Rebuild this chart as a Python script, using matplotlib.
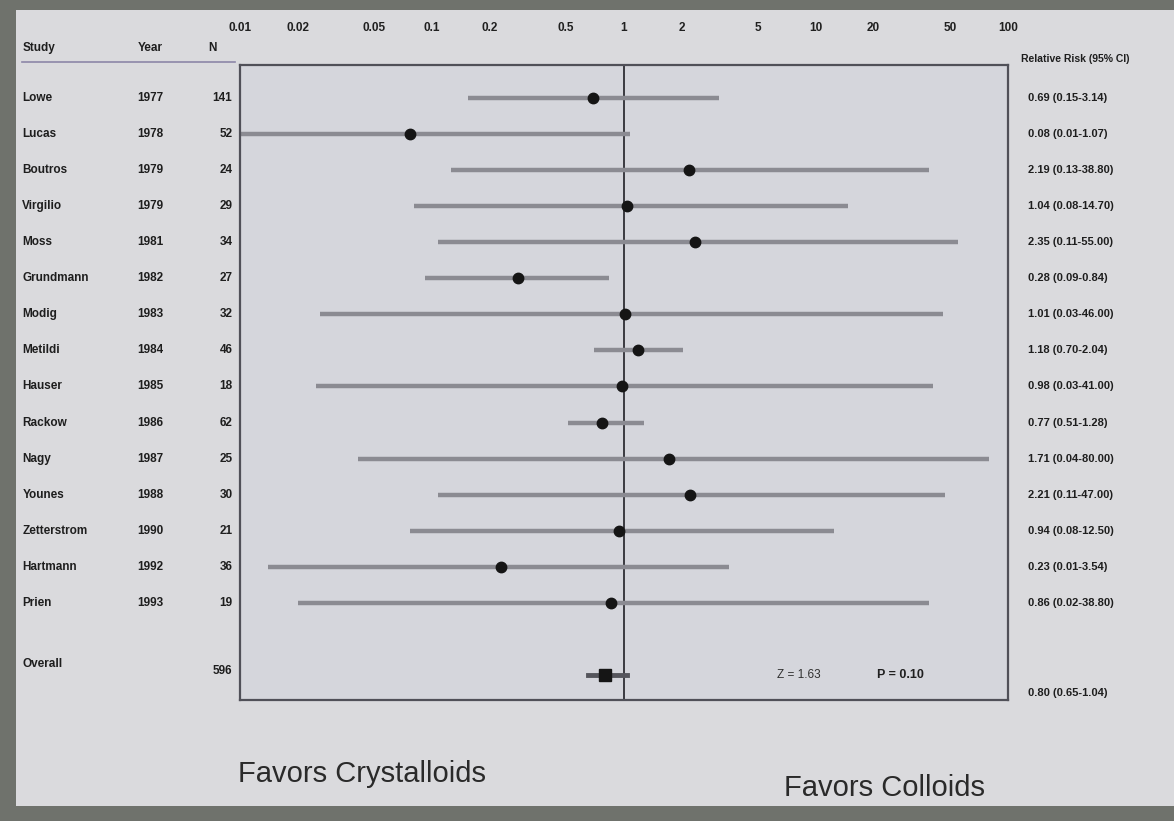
import matplotlib.pyplot as plt
import matplotlib.transforms as mtransforms
from matplotlib.patches import Rectangle

plt.rcParams['font.family'] = ['Liberation Sans', 'DejaVu Sans']

# Study data (estimated where blurry)
studies = ['Lowe', 'Lucas', 'Boutros', 'Virgilio', 'Moss', 'Grundmann', 'Modig',
           'Metildi', 'Hauser', 'Rackow', 'Nagy', 'Younes', 'Zetterstrom',
           'Hartmann', 'Prien']
years = [1977, 1978, 1979, 1979, 1981, 1982, 1983, 1984, 1985, 1986, 1987,
         1988, 1990, 1992, 1993]
n_pts = [141, 52, 24, 29, 34, 27, 32, 46, 18, 62, 25, 30, 21, 36, 19]
rr = [0.69, 0.077, 2.19, 1.04, 2.35, 0.28, 1.01, 1.18, 0.98, 0.77, 1.71,
      2.21, 0.94, 0.23, 0.86]
ci_low = [0.154, 0.009, 0.126, 0.081, 0.108, 0.092, 0.026, 0.70, 0.025, 0.51,
          0.041, 0.108, 0.077, 0.014, 0.020]
ci_high = [3.14, 1.07, 38.8, 14.7, 55.0, 0.84, 46.0, 2.04, 41.0, 1.28, 80.0,
           47.0, 12.5, 3.54, 38.8]

overall_n = 596
overall_rr = 0.80
overall_low = 0.65
overall_high = 1.04

xticks = [0.01, 0.02, 0.05, 0.1, 0.2, 0.5, 1, 2, 5, 10, 20, 50, 100]
xtick_labels = ['0.01', '0.02', '0.05', '0.1', '0.2', '0.5', '1', '2', '5',
                '10', '20', '50', '100']

fig = plt.figure(figsize=(11.74, 8.21), dpi=100)
fig.patch.set_facecolor('#6f726c')
# light "slide" area inside the dark photo frame
fig.add_artist(Rectangle((0.014, 0.018), 0.986, 0.97, transform=fig.transFigure,
                         facecolor='#dadadd', edgecolor='none', zorder=0))

ax = fig.add_axes([0.2044, 0.1474, 0.654, 0.7734])
ax.set_facecolor('#d5d6dc')
ax.set_xscale('log')
ax.set_xlim(0.01, 100)

rows = list(range(len(studies)))
overall_row = len(studies) + 1
ax.set_ylim(overall_row + 0.7, -0.92)

for i in rows:
    ax.plot([ci_low[i], ci_high[i]], [i, i], color='#8b8b92', lw=3.2,
            solid_capstyle='butt', zorder=2)
ax.plot(rr, rows, 'o', color='#151515', ms=7.5, zorder=3)

ax.plot([overall_low, overall_high], [overall_row, overall_row],
        color='#55555c', lw=3.5, zorder=2)
ax.plot([overall_rr], [overall_row], 's', color='#151515', ms=8, zorder=3)

ax.axvline(1, color='#3a3a40', lw=1.4, zorder=1)

ax.set_xticks(xticks)
ax.set_xticklabels(xtick_labels)
ax.minorticks_off()
ax.xaxis.tick_top()
ax.tick_params(axis='x', length=0, pad=22, labelsize=8.5, labelcolor='#202020')
for lbl in ax.get_xticklabels():
    lbl.set_fontweight('bold')
ax.set_yticks([])
for s in ax.spines.values():
    s.set_color('#505058')
    s.set_linewidth(1.6)

ax.text(0.70, overall_row, 'Z = 1.63', transform=ax.get_yaxis_transform(),
        fontsize=8.5, color='#303030', va='center', ha='left')
ax.text(0.83, overall_row, 'P = 0.10', transform=ax.get_yaxis_transform(),
        fontsize=9, fontweight='bold', color='#202020', va='center', ha='left')

# table columns left and right of the plot
trans = mtransforms.blended_transform_factory(fig.transFigure, ax.transData)
for i in rows:
    ax.text(0.019, i, studies[i], transform=trans, fontsize=8.5,
            fontweight='bold', color='#1e1e1e', va='center', clip_on=False)
    ax.text(0.117, i, str(years[i]), transform=trans, fontsize=8.5,
            fontweight='bold', color='#1e1e1e', va='center', clip_on=False)
    ax.text(0.198, i, str(n_pts[i]), transform=trans, fontsize=8.5,
            fontweight='bold', color='#1e1e1e', va='center', ha='right',
            clip_on=False)
    ax.text(0.876, i, f'{rr[i]:.2f} ({ci_low[i]:.2f}-{ci_high[i]:.2f})',
            transform=trans, fontsize=8, fontweight='bold', color='#1e1e1e',
            va='center', clip_on=False)

ax.text(0.019, overall_row - 0.3, 'Overall', transform=trans, fontsize=8.5,
        fontweight='bold', color='#1e1e1e', va='center', clip_on=False)
ax.text(0.198, overall_row - 0.1, str(overall_n), transform=trans, fontsize=8.5,
        fontweight='bold', color='#1e1e1e', va='center', ha='right', clip_on=False)
ax.text(0.876, overall_row + 0.5,
        f'{overall_rr:.2f} ({overall_low:.2f}-{overall_high:.2f})',
        transform=trans, fontsize=8, fontweight='bold', color='#1e1e1e',
        va='center', clip_on=False)

# headers
hy = 0.938
fig.text(0.019, hy, 'Study', fontsize=8.5, fontweight='bold', color='#1e1e1e')
fig.text(0.117, hy, 'Year', fontsize=8.5, fontweight='bold', color='#1e1e1e')
fig.text(0.177, hy, 'N', fontsize=8.5, fontweight='bold', color='#1e1e1e')
fig.text(0.870, 0.925, 'Relative Risk (95% CI)', fontsize=7.5,
         fontweight='bold', color='#1e1e1e')
fig.add_artist(plt.Line2D([0.019, 0.2], [0.925, 0.925], color='#8c86a8', lw=1.2))

fig.text(0.203, 0.048, 'Favors Crystalloids', fontsize=21, color='#2a2a2a')
fig.text(0.668, 0.03, 'Favors Colloids', fontsize=21, color='#2a2a2a')

plt.savefig('out.png', dpi=100, facecolor=fig.get_facecolor())
